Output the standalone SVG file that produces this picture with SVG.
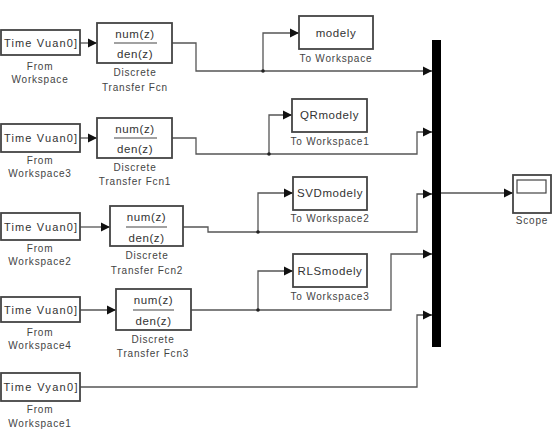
<svg xmlns="http://www.w3.org/2000/svg" width="560" height="436" viewBox="0 0 560 436">
<defs>
<marker id="ah" markerUnits="userSpaceOnUse" markerWidth="10" markerHeight="10" refX="9" refY="5" orient="auto">
<path d="M0,0.5 L9,5 L0,9.5 Z" fill="#111"/>
</marker>
<style>
.blk{fill:#fff;stroke:#444;stroke-width:1.8}
.ln{fill:none;stroke:#555;stroke-width:1.3}
.t{font-family:"Liberation Sans",Arial,sans-serif;font-size:11.5px;fill:#333;text-anchor:middle;letter-spacing:0.6px}
.tw{font-family:"Liberation Sans",Arial,sans-serif;font-size:11px;fill:#333;text-anchor:middle}
.lb{font-family:"Liberation Sans",Arial,sans-serif;font-size:10px;fill:#444;text-anchor:middle;letter-spacing:0.8px}
.dv{stroke:#444;stroke-width:1.2}
</style>
</defs>
<rect width="560" height="436" fill="#fff"/>

<g id="connectors">
<path class="ln" d="M80,43 H97" marker-end="url(#ah)"/>
<path class="ln" d="M172,43 H196 V71 H432" marker-end="url(#ah)"/>
<path class="ln" d="M263,71 V33 H299" marker-end="url(#ah)"/>
<circle cx="263" cy="71" r="1.8" fill="#222"/>

<path class="ln" d="M80,138 H97" marker-end="url(#ah)"/>
<path class="ln" d="M172,138 H196 V154 H417 V132 H432" marker-end="url(#ah)"/>
<path class="ln" d="M269,154 V115 H292" marker-end="url(#ah)"/>
<circle cx="269" cy="154" r="1.8" fill="#222"/>

<path class="ln" d="M80,227 H110" marker-end="url(#ah)"/>
<path class="ln" d="M183,227 H208 V232 H417 V194 H432" marker-end="url(#ah)"/>
<path class="ln" d="M258,232 V193 H293" marker-end="url(#ah)"/>
<circle cx="258" cy="232" r="1.8" fill="#222"/>

<path class="ln" d="M80,310 H116" marker-end="url(#ah)"/>
<path class="ln" d="M191,310 H391 V254 H432" marker-end="url(#ah)"/>
<path class="ln" d="M258,310 V271 H293" marker-end="url(#ah)"/>
<circle cx="258" cy="310" r="1.8" fill="#222"/>

<path class="ln" d="M80,387 H417 V315 H432" marker-end="url(#ah)"/>

<path class="ln" d="M441,193 H513" marker-end="url(#ah)"/>
</g>

<g id="fw">
<rect class="blk" x="1" y="30" width="79" height="25"/>
<text class="tw" x="40.5" y="47" textLength="73">Time Vuan0]</text>
<text class="lb" x="40" y="70">From</text>
<text class="lb" x="40" y="83">Workspace</text>
</g>
<g id="fw3">
<rect class="blk" x="1" y="124" width="79" height="28"/>
<text class="tw" x="40.5" y="142" textLength="73">Time Vuan0]</text>
<text class="lb" x="40" y="164">From</text>
<text class="lb" x="40" y="177">Workspace3</text>
</g>
<g id="fw2">
<rect class="blk" x="1" y="213" width="79" height="27"/>
<text class="tw" x="40.5" y="231" textLength="73">Time Vuan0]</text>
<text class="lb" x="40" y="252">From</text>
<text class="lb" x="40" y="265">Workspace2</text>
</g>
<g id="fw4">
<rect class="blk" x="1" y="297" width="79" height="25"/>
<text class="tw" x="40.5" y="314" textLength="73">Time Vuan0]</text>
<text class="lb" x="40" y="336">From</text>
<text class="lb" x="40" y="349">Workspace4</text>
</g>
<g id="fw1">
<rect class="blk" x="1" y="373" width="79" height="28"/>
<text class="tw" x="40.5" y="391" textLength="74">Time Vyan0]</text>
<text class="lb" x="40" y="413">From</text>
<text class="lb" x="40" y="427">Workspace1</text>
</g>

<g id="tf">
<rect class="blk" x="97" y="23" width="75" height="40"/>
<text class="t" x="135" y="38">num(z)</text>
<line class="dv" x1="114" y1="43" x2="157" y2="43"/>
<text class="t" x="135" y="58">den(z)</text>
<text class="lb" x="135" y="76">Discrete</text>
<text class="lb" x="135" y="91">Transfer Fcn</text>
</g>
<g id="tf1">
<rect class="blk" x="97" y="118" width="75" height="40"/>
<text class="t" x="135" y="133">num(z)</text>
<line class="dv" x1="114" y1="138" x2="157" y2="138"/>
<text class="t" x="135" y="153">den(z)</text>
<text class="lb" x="135" y="171">Discrete</text>
<text class="lb" x="135" y="185">Transfer Fcn1</text>
</g>
<g id="tf2">
<rect class="blk" x="110" y="206" width="73" height="40"/>
<text class="t" x="146.5" y="221">num(z)</text>
<line class="dv" x1="126" y1="227" x2="167" y2="227"/>
<text class="t" x="146.5" y="242">den(z)</text>
<text class="lb" x="147" y="259">Discrete</text>
<text class="lb" x="147" y="274">Transfer Fcn2</text>
</g>
<g id="tf3">
<rect class="blk" x="116" y="289" width="75" height="41"/>
<text class="t" x="153.5" y="304">num(z)</text>
<line class="dv" x1="133" y1="310" x2="174" y2="310"/>
<text class="t" x="153.5" y="325">den(z)</text>
<text class="lb" x="153" y="343">Discrete</text>
<text class="lb" x="153" y="357">Transfer Fcn3</text>
</g>

<g id="tw">
<rect class="blk" x="299" y="16" width="74" height="33"/>
<text class="t" x="336" y="37">modely</text>
<text class="lb" x="336" y="62">To Workspace</text>
</g>
<g id="tw1">
<rect class="blk" x="292" y="99" width="75" height="33"/>
<text class="t" x="329.5" y="119">QRmodely</text>
<text class="lb" x="330" y="145">To Workspace1</text>
</g>
<g id="tw2">
<rect class="blk" x="293" y="177" width="74" height="33"/>
<text class="t" x="330" y="197">SVDmodely</text>
<text class="lb" x="330" y="222">To Workspace2</text>
</g>
<g id="tw3">
<rect class="blk" x="293" y="254" width="74" height="33"/>
<text class="t" x="330" y="275">RLSmodely</text>
<text class="lb" x="330" y="300">To Workspace3</text>
</g>

<g id="mux">
<rect x="432" y="40" width="9" height="307" fill="#000"/>
</g>

<g id="scope">
<rect class="blk" x="513" y="175" width="38" height="38"/>
<rect x="517" y="180" width="29" height="13" fill="#fff" stroke="#444" stroke-width="1.2"/>
<text class="lb" x="532" y="224">Scope</text>
</g>
</svg>
